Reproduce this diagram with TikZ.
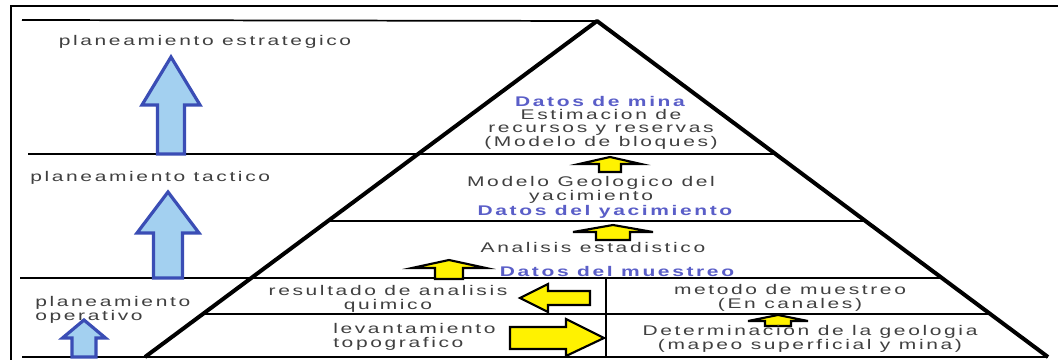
\documentclass[tikz,border=0pt]{standalone}
\usepackage{fontspec}
\setmainfont{Liberation Sans}
\newfontfamily\lblfont[LetterSpace=12.5]{Liberation Sans}
\usepackage{graphicx}
\usetikzlibrary{calc}
\definecolor{txtgray}{HTML}{404040}
\definecolor{txtblue}{HTML}{5A5EC8}
\definecolor{bluefill}{HTML}{A3D0F0}
\definecolor{blueedge}{HTML}{3A4DB5}
\definecolor{yfill}{HTML}{FFF200}
\newcommand{\stx}[2][c]{\scalebox{1.5}[1]{\begin{tabular}{@{}#1@{}}#2\end{tabular}}}
\newcommand{\myuparr}[7]{\draw[#1] ({#2-#7},#5) -- ({#2-#7},#4) -- ({#2-#6},#4) -- (#2,#3) -- ({#2+#6},#4) -- ({#2+#7},#4) -- ({#2+#7},#5) -- cycle;}
\begin{document}
\begin{tikzpicture}[x=0.75pt,y=-0.75pt,
  lbl/.style={inner sep=0pt, text=txtgray, font=\lblfont\fontsize{10.5}{9.6}\selectfont},
  blbl/.style={inner sep=0pt, text=txtblue, font=\lblfont\bfseries\fontsize{10.5}{9.6}\selectfont},
  thinline/.style={line width=1.3pt, black},
  frame/.style={line width=2pt, black},
  pyr/.style={line width=3pt, black, line join=round},
  bluearr/.style={fill=bluefill, draw=blueedge, line width=2.4pt, line join=miter},
  yarr/.style={fill=yfill, draw=black, line width=1.6pt, line join=miter}]
\useasboundingbox (0,0) rectangle (1058,360);
\fill[white] (0,0) rectangle (1058,360);
% frame
\draw[frame] (11,360) -- (11,6) -- (1058,6);
% pyramid
\coordinate (A) at (597,21);
\coordinate (BL) at (145,357);
\coordinate (BR) at (1048,357);
\coordinate (L1) at ($(A)!0.3958!(BL)$);
\coordinate (R1) at ($(A)!0.3958!(BR)$);
\coordinate (L2) at ($(A)!0.5952!(BL)$);
\coordinate (R2) at ($(A)!0.5952!(BR)$);
\coordinate (L3) at ($(A)!0.7649!(BL)$);
\coordinate (R3) at ($(A)!0.7649!(BR)$);
\coordinate (L4) at ($(A)!0.8720!(BL)$);
\coordinate (R4) at ($(A)!0.8720!(BR)$);
\coordinate (S0) at (22,20);
\coordinate (S1) at (28,154);
\coordinate (S3) at (20,278);
\coordinate (S5) at (22,357);
\coordinate (D1) at (606,278);
\coordinate (D2) at (606,357);
\draw[thinline] (S0) -- (A);
\draw[thinline] (S1) -- (R1);
\draw[thinline] (L2) -- (R2);
\draw[thinline] (S3) -- (R3);
\draw[thinline] (L4) -- (R4);
\draw[thinline] (S5) -- (BR);
\draw[line width=2pt] (D1) -- (D2);
\draw[pyr] (BL) -- (A) -- (BR);
% blue arrows
\myuparr{bluearr}{171}{57}{105}{154}{29}{13.5}
\myuparr{bluearr}{168}{192}{233}{278}{31}{14.5}
\myuparr{bluearr}{84}{320}{338}{357}{21.5}{12}
% yellow arrows
\myuparr{yarr}{610}{157}{164}{172}{31}{11}
\myuparr{yarr}{613}{225}{232}{240}{40}{17}
\myuparr{yarr}{449}{260}{268}{279}{37}{14}
\myuparr{yarr}{778}{315}{321}{326}{30}{13}
\draw[yarr] (590,291) -- (548,291) -- (548,284) -- (520,298) -- (548,312) -- (548,305) -- (590,305) -- cycle;
\draw[yarr] (510,327) -- (566,327) -- (566,319) -- (604,338) -- (566,356) -- (566,349) -- (510,349) -- cycle;
% labels
\node[lbl] (est) at (205,42) {\stx{planeamiento estrategico}};
\node[lbl, anchor=west] (tac) at (30,178) {\stx{planeamiento tactico}};
\node[lbl, anchor=west] (oper) at (35,310) {\stx[l]{planeamiento\\operativo}};
\node[blbl] (mina) at (600,103) {\stx{Datos de mina}};
\node[lbl] (estim) at (601,130) {\stx{Estimacion de\\recursos y reservas\\(Modelo de bloques)}};
\node[lbl] (geo) at (591,190) {\stx{Modelo Geologico del\\yacimiento}};
\node[blbl] (dyac) at (605,212) {\stx{Datos del yacimiento}};
\node[lbl] (anal) at (593,249) {\stx{Analisis estadistico}};
\node[blbl] (dmue) at (617,273) {\stx{Datos del muestreo}};
\node[lbl] (quim) at (388,299) {\stx{resultado de analisis\\quimico}};
\node[lbl] (met) at (790,298) {\stx{metodo de muestreo\\(En canales)}};
\node[lbl, anchor=west] (lev) at (333,337) {\stx[l]{levantamiento\\topografico}};
\node[lbl] (det) at (810,339) {\stx{Determinacion de la geologia\\(mapeo superficial y mina)}};
\end{tikzpicture}
\end{document}
